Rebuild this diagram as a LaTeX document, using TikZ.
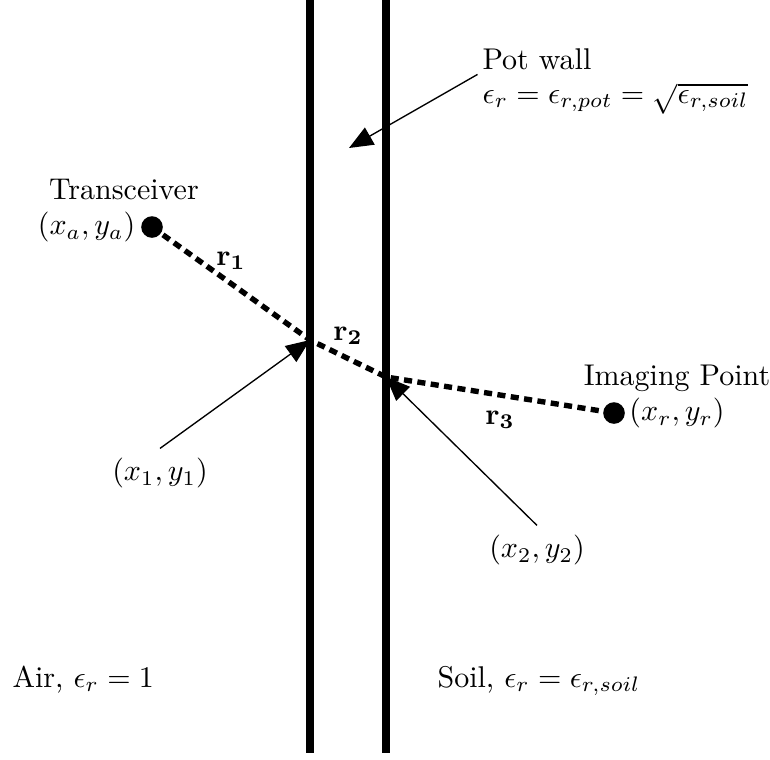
\documentclass[tikz,border=0pt]{standalone}
\usetikzlibrary{arrows.meta}
\begin{document}
\begin{tikzpicture}[x=0.3333pt,y=-0.3333pt,
  wallline/.style={line width=2.6pt},
  ray/.style={line width=1.8pt, dash pattern=on 2.7pt off 1.8pt},
  dot/.style={circle, fill=black, inner sep=0pt, minimum size=7.2pt},
  pointer/.style={line width=0.45pt, -{Triangle[length=8pt,width=6.5pt]}},
  lbl/.style={inner sep=0pt, font=\normalsize}]
\useasboundingbox (0,0) rectangle (770,759);
% walls
\coordinate (w1top) at (310,0);
\coordinate (w1bot) at (310,753);
\coordinate (w2top) at (386,0);
\coordinate (w2bot) at (386,753);
\draw[wallline] (w1top) -- (w1bot);
\draw[wallline] (w2top) -- (w2bot);
% points
\node[dot] (tx) at (152,227) {};
\node[dot] (rx) at (614,413) {};
\coordinate (i1) at (310,340);
\coordinate (i2) at (386,377);
\draw[ray] (tx.center) -- (i1) -- (i2) -- (rx.center);
% labels
\node[lbl, anchor=base] (txname) at (124,199) {Transceiver};
\node[lbl, anchor=east] (txpos) at (136,227) {$(x_a,y_a)$};
\node[lbl, anchor=base] (rxname) at (677,385) {Imaging Point};
\node[lbl] (rxpos) at (677,413) {$(x_r,y_r)$};
\node[lbl] (r1) at (231,261) {$\mathbf{r_1}$};
\node[lbl] (r2) at (348,336) {$\mathbf{r_2}$};
\node[lbl] (r3) at (500,420) {$\mathbf{r_3}$};
\node[inner sep=3pt, font=\normalsize] (p1lbl) at (160,473) {$(x_1,y_1)$};
\node[inner sep=3pt, font=\normalsize] (p2lbl) at (537,550) {$(x_2,y_2)$};
\draw[pointer] (p1lbl.north) -- (i1);
\draw[pointer] (p2lbl.north) -- (i2);
% pot wall
\node[lbl, anchor=base west] (pottitle) at (482,69) {Pot wall};
\node[lbl, anchor=base west] (potformula) at (482,103) {$\epsilon_r=\epsilon_{r,pot}=\sqrt{\epsilon_{r,soil}}$};
\coordinate (potpt) at (349,148);
\draw[pointer] ([xshift=-1.5pt,yshift=-1.5pt]pottitle.south west) -- (potpt);
% media
\node[lbl, anchor=base west] (air) at (12,687) {Air, $\epsilon_r=1$};
\node[lbl, anchor=base west] (soil) at (437,687) {Soil, $\epsilon_r=\epsilon_{r,soil}$};
\end{tikzpicture}
\end{document}
